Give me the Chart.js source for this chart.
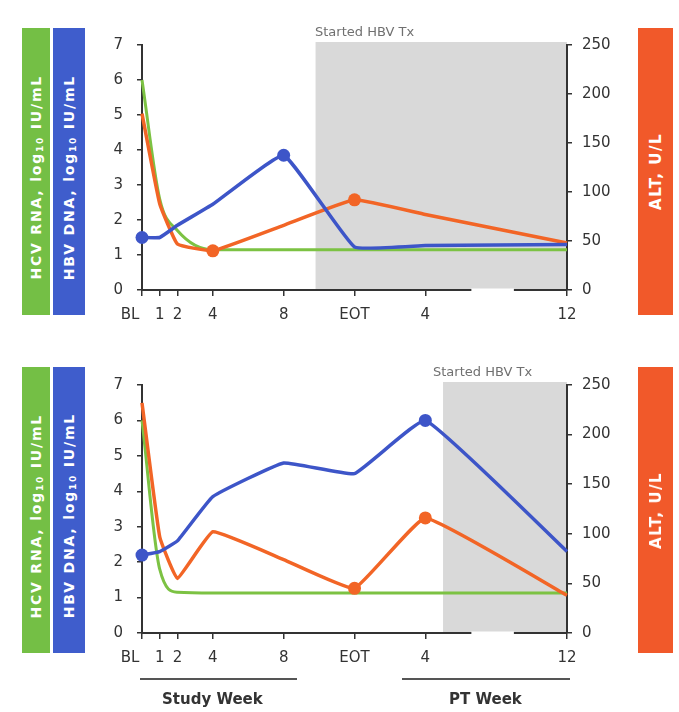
<!DOCTYPE html>
<html>
<head>
<meta charset="utf-8">
<script src="https://cdn.jsdelivr.net/npm/chart.js@4.4.0/dist/chart.umd.min.js"></script>
<style>
body { margin: 0; background: #fff; font-family: 'DejaVu Sans', sans-serif; }
#page { position: relative; width: 679px; height: 712px; overflow: hidden; }
canvas { position: absolute; left: 0; }
.band { position: absolute; display: flex; align-items: center; justify-content: center; color: #fff; }
.band span { writing-mode: vertical-rl; transform: rotate(180deg); font-size: 14px; font-weight: bold; letter-spacing: 1.8px; white-space: nowrap; padding-bottom: 12px; }
.band sub { font-size: 9px; }
.band.orange span { font-size: 15px; letter-spacing: 1.5px; padding-bottom: 0; }
.green { background: #74bf45; }
.blue { background: #3f5dcc; }
.orange { background: #f1592a; }
.note { position: absolute; color: #707070; font-size: 13px; white-space: nowrap; }
.week { position: absolute; font-weight: bold; font-size: 15px; color: #333; white-space: nowrap; }
.rule { position: absolute; height: 2px; background: #555; }
</style>
</head>
<body>
<div id="page">
    <canvas id="chartTop" width="679" height="340" style="top:0px"></canvas>
    <canvas id="chartBottom" width="679" height="340" style="top:340px"></canvas>

    <div class="band green" style="left:22px;top:28px;width:28px;height:287px"><span>HCV RNA, log<sub>10</sub> IU/mL</span></div>
    <div class="band blue" style="left:53px;top:28px;width:32px;height:287px"><span>HBV DNA, log<sub>10</sub> IU/mL</span></div>
    <div class="band orange" style="left:638px;top:28px;width:35px;height:287px"><span>ALT, U/L</span></div>

    <div class="band green" style="left:22px;top:367px;width:28px;height:286px"><span>HCV RNA, log<sub>10</sub> IU/mL</span></div>
    <div class="band blue" style="left:53px;top:367px;width:32px;height:286px"><span>HBV DNA, log<sub>10</sub> IU/mL</span></div>
    <div class="band orange" style="left:638px;top:367px;width:35px;height:286px"><span>ALT, U/L</span></div>

    <div class="note" style="left:315px;top:24px">Started HBV Tx</div>
    <div class="note" style="left:433px;top:364px">Started HBV Tx</div>

    <div class="rule" style="left:140px;top:678px;width:157px"></div>
    <div class="week" style="left:162px;top:690px">Study Week</div>
    <div class="rule" style="left:402px;top:678px;width:168px"></div>
    <div class="week" style="left:449px;top:690px">PT Week</div>
</div>
<script>
// study weeks on one linear axis: EOT = 12, PT week 4 = 16, PT week 12 = 24
const weeks = [0, 1, 2, 4, 8, 12, 16, 24];
const weekLabels = ['BL', '1', '2', '4', '8', 'EOT', '4', '12'];

// patient 1 (top)
const hcvTop = [6.0, 2.6, 1.7, 1.15, 1.15, 1.15, 1.15, 1.15];
const hbvTop = [1.5, 1.5, 1.85, 2.45, 3.85, 1.23, 1.27, 1.3];
const altTop = [180, 88, 47, 40, 66, 92, 77, 48];
const hbvMarksTop = [0, 4];
const altMarksTop = [3, 5];
const txStartTop = 9.8;

// patient 2 (bottom)
const hcvBottom = [6.0, 1.8, 1.15, 1.13, 1.13, 1.13, 1.13, 1.13];
const hbvBottom = [2.2, 2.3, 2.6, 3.85, 4.8, 4.5, 6.0, 2.3];
const altBottom = [232, 97, 55, 102, 74, 45, 116, 38];
const hbvMarksBottom = [0, 6];
const altMarksBottom = [5, 6];
const txStartBottom = 17;

const axisBreak = [18.6, 21];

const colors = {
    hcv: '#7cc243',
    hbv: '#3d55c8',
    alt: '#f26526',
    shade: '#d9d9d9',
    axis: '#333'
};

function toPoints(values) {
    return values.map((v, i) => ({x: weeks[i], y: v}));
}

function markRadius(marks) {
    return ctx => marks.includes(ctx.dataIndex) ? 6.5 : 0;
}

const shadePlugin = {
    id: 'shade',
    beforeDraw(chart, args, opts) {
        const {ctx, chartArea} = chart;
        const x = chart.scales.x;
        const left = x.getPixelForValue(opts.from);
        ctx.save();
        ctx.fillStyle = colors.shade;
        ctx.fillRect(left, chartArea.top - 3, chartArea.right - left, chartArea.bottom - chartArea.top + 3);
        ctx.restore();
    },
    afterDraw(chart, args, opts) {
        // broken x axis
        const {ctx, chartArea} = chart;
        const x = chart.scales.x;
        const a = x.getPixelForValue(axisBreak[0]);
        const b = x.getPixelForValue(axisBreak[1]);
        ctx.save();
        ctx.fillStyle = '#fff';
        ctx.fillRect(a, chartArea.bottom - 1.5, b - a, 3.5);
        ctx.restore();
    }
};

function makeChart(id, series, plotBottom) {
    const tickFont = {family: "'DejaVu Sans', sans-serif", size: 15};
    const canvasHeight = 340;
    return new Chart(document.getElementById(id), {
        type: 'line',
        data: {
            datasets: [
                {
                    label: 'HBV DNA',
                    data: toPoints(series.hbv),
                    yAxisID: 'y',
                    borderColor: colors.hbv,
                    backgroundColor: colors.hbv,
                    borderWidth: 3.5,
                    pointRadius: markRadius(series.hbvMarks),
                    pointBorderWidth: 0,
                    tension: 0.1,
                    clip: false
                },
                {
                    label: 'ALT',
                    data: toPoints(series.alt),
                    yAxisID: 'y2',
                    borderColor: colors.alt,
                    backgroundColor: colors.alt,
                    borderWidth: 3.5,
                    pointRadius: markRadius(series.altMarks),
                    pointBorderWidth: 0,
                    tension: 0.1,
                    clip: false
                },
                {
                    label: 'HCV RNA',
                    data: toPoints(series.hcv),
                    yAxisID: 'y',
                    borderColor: colors.hcv,
                    backgroundColor: colors.hcv,
                    borderWidth: 3,
                    pointRadius: 0,
                    cubicInterpolationMode: 'monotone',
                    clip: false
                }
            ]
        },
        options: {
            responsive: false,
            animation: false,
            events: [],
            layout: {padding: {top: 45, left: 0, right: 0, bottom: 0}},
            plugins: {
                legend: {display: false},
                tooltip: {enabled: false},
                shade: {from: series.txStart}
            },
            scales: {
                x: {
                    type: 'linear',
                    min: 0,
                    max: 24,
                    afterBuildTicks: scale => {
                        scale.ticks = weeks.map(v => ({value: v}));
                    },
                    afterFit: scale => { scale.height = canvasHeight - plotBottom; },
                    ticks: {
                        autoSkip: false,
                        maxRotation: 0,
                        padding: 10,
                        color: '#333',
                        font: tickFont,
                        callback: v => {
                            const label = weekLabels[weeks.indexOf(v)];
                            return label === 'BL' ? 'BL\u00a0\u00a0\u00a0\u00a0\u00a0' : label;
                        }
                    },
                    grid: {drawOnChartArea: false, tickLength: 6, color: colors.axis, lineWidth: 1.5},
                    border: {color: colors.axis, width: 2}
                },
                y: {
                    position: 'left',
                    min: 0,
                    max: 7,
                    afterFit: scale => { scale.width = 142; },
                    ticks: {stepSize: 1, padding: 14, color: '#333', font: tickFont},
                    grid: {drawOnChartArea: false, tickLength: 5, color: colors.axis, lineWidth: 1.5},
                    border: {color: colors.axis, width: 2}
                },
                y2: {
                    position: 'right',
                    min: 0,
                    max: 250,
                    afterFit: scale => { scale.width = 112; },
                    ticks: {stepSize: 50, padding: 10, color: '#333', font: tickFont},
                    grid: {drawOnChartArea: false, tickLength: 5, color: colors.axis, lineWidth: 1.5},
                    border: {color: colors.axis, width: 2}
                }
            }
        },
        plugins: [shadePlugin]
    });
}

makeChart('chartTop', {
    hcv: hcvTop, hbv: hbvTop, alt: altTop,
    hbvMarks: hbvMarksTop, altMarks: altMarksTop, txStart: txStartTop
}, 290);

makeChart('chartBottom', {
    hcv: hcvBottom, hbv: hbvBottom, alt: altBottom,
    hbvMarks: hbvMarksBottom, altMarks: altMarksBottom, txStart: txStartBottom
}, 293);
</script>
</body>
</html>
